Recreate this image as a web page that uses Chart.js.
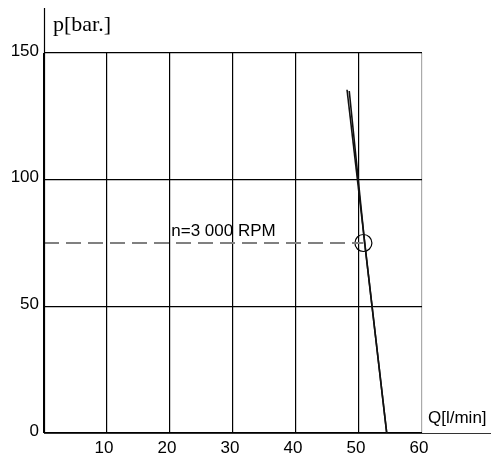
<!DOCTYPE html>
<html>
<head>
<meta charset="utf-8">
<script src="https://cdn.jsdelivr.net/npm/chart.js@4.4.1/dist/chart.umd.min.js"></script>
<style>
  html,body{margin:0;padding:0;background:#fff;}
  #wrap{position:relative;width:491px;height:461px;}
</style>
</head>
<body>
<div id="wrap"><canvas id="chart" width="491" height="461"></canvas></div>
<script>
'use strict';
// data
const curveA = [{x:48.1,y:135.5},{x:54.4,y:0}];
const curveB = [{x:48.45,y:135},{x:50.9,y:75},{x:54.4,y:0}];
const opPoint = [{x:50.7,y:75}];
const rpmLine = [{x:0,y:75},{x:50.7,y:75}];
const rpmText = 'n=3 000 RPM';
const xTicks = [10,20,30,40,50,60];
const yTicks = [0,50,100,150];
const xTitle = 'Q[l/min]';
const yTitle = 'p[bar.]';

const sans = '"Liberation Sans", Arial, sans-serif';

const decor = {
  id:'decor',
  afterDraw(chart){
    const {ctx, chartArea:a, scales:{x,y}} = chart;
    ctx.save();
    // axes extending outside the plot box
    ctx.strokeStyle = '#000'; ctx.lineWidth = 1.2;
    ctx.beginPath();
    ctx.moveTo(x.getPixelForValue(0)+0.5, 8); ctx.lineTo(x.getPixelForValue(0)+0.5, y.getPixelForValue(0));
    ctx.stroke();
    ctx.strokeStyle = '#333';
    ctx.beginPath();
    ctx.moveTo(a.left, y.getPixelForValue(0)+0.5); ctx.lineTo(491, y.getPixelForValue(0)+0.5);
    ctx.stroke();

    ctx.fillStyle = '#000';
    ctx.font = '17px ' + sans;
    ctx.textBaseline = 'middle';
    ctx.textAlign = 'right';
    yTicks.forEach(v => ctx.fillText(String(v), a.left-5, y.getPixelForValue(v)-2));
    ctx.textAlign = 'center';
    xTicks.forEach(v => ctx.fillText(String(v), x.getPixelForValue(v)-3, y.getPixelForValue(0)+15));

    ctx.textAlign = 'left';
    ctx.fillText(xTitle, 428, 418);
    ctx.fillText(rpmText, x.getPixelForValue(20.2), y.getPixelForValue(75)-12);

    ctx.font = '22px "Liberation Serif", "Times New Roman", serif';
    ctx.fillText(yTitle, 53, 25);
    ctx.restore();
  }
};

new Chart(document.getElementById('chart'), {
  type:'scatter',
  data:{datasets:[
    {data:rpmLine, showLine:true, borderColor:'#808080', borderWidth:2, borderDash:[15,7], pointRadius:0},
    {data:curveA, showLine:true, borderColor:'#111', borderWidth:1.6, pointRadius:0},
    {data:curveB, showLine:true, borderColor:'#111', borderWidth:1.6, pointRadius:0},
    {data:opPoint, pointRadius:8.5, pointBorderWidth:1.2, pointBorderColor:'#000', pointBackgroundColor:'rgba(0,0,0,0)'}
  ]},
  options:{
    responsive:false, animation:false, devicePixelRatio:1,
    layout:{padding:{left:44, right:69, top:53, bottom:28}},
    plugins:{legend:{display:false}, tooltip:{enabled:false}},
    scales:{
      x:{type:'linear', min:0, max:60,
        ticks:{display:false, stepSize:10},
        border:{display:false},
        grid:{drawTicks:false, lineWidth:1.2, color:c => c.tick && c.tick.value===60 ? '#aaa' : '#000'}},
      y:{type:'linear', min:0, max:150,
        ticks:{display:false, stepSize:50},
        border:{display:false},
        grid:{drawTicks:false, lineWidth:1.2, color:'#000'}}
    }
  },
  plugins:[decor]
});
</script>
</body>
</html>
